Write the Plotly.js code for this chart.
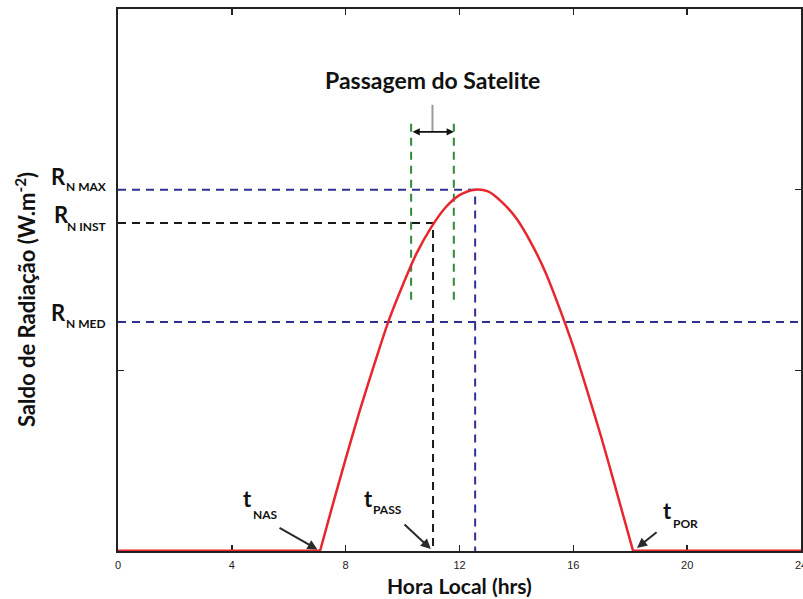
<!DOCTYPE html>
<html>
<head>
<meta charset="utf-8">
<script src="https://cdn.plot.ly/plotly-3.0.1.min.js"></script>
<style>html,body{margin:0;padding:0;background:#fff;}#chart{width:803px;height:599px;}</style>
</head>
<body>
<div id="chart"></div>
<script>
// ---- data ----
const xTickValues = [0, 4, 8, 12, 16, 20, 24];
const xTickLabels = ['0', '4', '8', '12', '16', '20', '24'];
const yTickValues = [0, 1, 2, 3];

// night (zero) portions of net radiation
const nightHours  = [0, 7.1, null, 18.1, 24];
const nightValues = [0, 0, null, 0, 0];
// daytime arc of net radiation
const dayHours  = [7.1, 7.5, 8, 8.5, 9, 9.5, 10, 10.5, 11, 11.5, 12, 12.55, 13, 13.5, 14, 14.5, 15, 15.5, 16, 16.5, 17, 17.5, 18.1];
const dayValues = [0, 0.23, 0.51, 0.78, 1.03, 1.27, 1.47, 1.65, 1.79, 1.90, 1.97, 2.0, 1.99, 1.93, 1.84, 1.71, 1.55, 1.35, 1.13, 0.88, 0.62, 0.34, 0];

// characteristic times (hours)
const tNas = 7.1, tPass = 11.07, tMax = 12.55, tPor = 18.1;
// characteristic radiation levels
const rnMax = 2.0, rnInst = 1.815, rnMed = 1.267;
// satellite pass window
const passWindow = [10.3, 11.8];
const passWindowY = [1.39, 2.37];
const passArrowY = 2.32;
const passPointerTop = 2.47;
const passCenter = 11.05;

const FONT = 'Lato, "Open Sans", sans-serif';
const BLUE = '#2e3192', BLACK = '#1a1a1a', GREEN = '#2f8a3a', RED = '#e8262d';
const DASH = '8px,6px';

const traces = [
  {x: [0, 24], y: [rnMed, rnMed], mode: 'lines', line: {color: BLUE, width: 2, dash: DASH}, hoverinfo: 'skip'},
  {x: [0, tMax, tMax], y: [rnMax, rnMax, 0], mode: 'lines', line: {color: BLUE, width: 2, dash: DASH}, hoverinfo: 'skip'},
  {x: [0, tPass, tPass], y: [rnInst, rnInst, 0], mode: 'lines', line: {color: BLACK, width: 2, dash: DASH}, hoverinfo: 'skip'},
  {x: [passWindow[0], passWindow[0], null, passWindow[1], passWindow[1]],
   y: [passWindowY[0], passWindowY[1], null, passWindowY[0], passWindowY[1]],
   mode: 'lines', line: {color: GREEN, width: 2, dash: DASH}, hoverinfo: 'skip'},
  {x: [passCenter, passCenter], y: [passArrowY, passPointerTop], mode: 'lines', line: {color: '#9a9a9a', width: 2}, hoverinfo: 'skip'},
  {x: nightHours, y: nightValues, mode: 'lines', line: {color: RED, width: 3}, cliponaxis: false, hoverinfo: 'skip'},
  {x: dayHours, y: dayValues, mode: 'lines', line: {color: RED, width: 2.5, shape: 'spline', smoothing: 0.8}, cliponaxis: false, hoverinfo: 'skip'}
];

function lbl(text, x, y, xs, ys, size, anchor) {
  return {x: x, y: y, xref: 'x', yref: 'y', text: '<b>' + text + '</b>', showarrow: false,
          xshift: xs, yshift: ys, xanchor: anchor || 'center', yanchor: 'middle',
          font: {family: FONT, size: size, color: '#111'}};
}
function lblPaper(text, xs, y, ys, size) {
  return {x: 0, y: y, xref: 'paper', yref: 'y', text: '<b>' + text + '</b>', showarrow: false,
          xshift: xs, yshift: ys, xanchor: 'right', yanchor: 'middle',
          font: {family: FONT, size: size, color: '#111'}};
}
function arrow(x, y, ax, ay, standoff) {
  return {x: x, y: y, xref: 'x', yref: 'y', ax: ax, ay: ay, text: '', showarrow: true,
          arrowhead: 2, arrowsize: 1, arrowwidth: 2, arrowcolor: '#2a2a2a', standoff: standoff};
}

const annotations = [
  // left level labels
  lblPaper('R', -50, rnMax, 13, 22), lblPaper('N MAX', -9, rnMax, 3, 12),
  lblPaper('R', -47, rnInst, 9, 22), lblPaper('N INST', -9, rnInst, -3, 12),
  lblPaper('R', -50, rnMed, 10, 22), lblPaper('N MED', -10, rnMed, -1, 12),
  // time labels
  lbl('t', tNas, 0, -73, 53, 22), lbl('NAS', tNas, 0, -55, 37, 12),
  lbl('t', tPass, 0, -65, 53, 22), lbl('PASS', tPass, 0, -46, 42, 12),
  lbl('t', tPor, 0, 34, 41, 22), lbl('POR', tPor, 0, 52, 28, 12),
  // arrows
  arrow(tNas, 0, -42, -24, 3),
  arrow(tPass, 0, -30, -28, 3),
  arrow(tPor, 0, 25, -20, 5),
  // satellite pass
  {x: passWindow[1], y: passArrowY, ax: passWindow[0], ay: passArrowY, axref: 'x', ayref: 'y', xref: 'x', yref: 'y',
   text: '', showarrow: true, arrowside: 'end+start', arrowhead: 2, arrowsize: 0.9, arrowwidth: 1.6, arrowcolor: '#111', standoff: 0, startstandoff: 0},
  {x: passCenter, y: passPointerTop, xref: 'x', yref: 'y', yshift: 25, text: '<b>Passagem do Satelite</b>', showarrow: false,
   xanchor: 'center', yanchor: 'middle', font: {family: FONT, size: 23, color: '#111'}},
  // axis titles
  {x: 0.5, y: 0, xref: 'paper', yref: 'paper', yshift: -34, text: '<b>Hora Local (hrs)</b>', showarrow: false,
   xanchor: 'center', yanchor: 'middle', font: {family: FONT, size: 21, color: '#111'}},
  {x: 0, y: 0.463, xref: 'paper', yref: 'paper', xshift: -93, textangle: -90, text: '<b>Saldo de Radiação (W.m<sup>-2</sup>)</b>', showarrow: false,
   xanchor: 'center', yanchor: 'middle', font: {family: FONT, size: 22, color: '#111'}}
];

const axisCommon = {showgrid: false, zeroline: false, showline: true, linecolor: '#222', linewidth: 2,
  ticks: 'inside', ticklen: 6, tickwidth: 1.5, tickcolor: '#222', mirror: 'ticks', layer: 'below traces'};

const layout = {
  width: 803, height: 599,
  margin: {l: 118, r: 2, t: 9, b: 48},
  paper_bgcolor: '#fff', plot_bgcolor: '#fff',
  showlegend: false,
  xaxis: Object.assign({}, axisCommon, {range: [0, 24], tickvals: xTickValues, ticktext: xTickLabels,
    ticklabeloverflow: 'allow', ticklabelstandoff: 3,
    tickfont: {family: '"Liberation Sans", Arial, sans-serif', size: 11, color: '#222'}}),
  yaxis: Object.assign({}, axisCommon, {range: [0, 3], tickvals: yTickValues, showticklabels: false}),
  annotations: annotations
};

Plotly.newPlot('chart', traces, layout, {staticPlot: true, displayModeBar: false});
</script>
</body>
</html>
